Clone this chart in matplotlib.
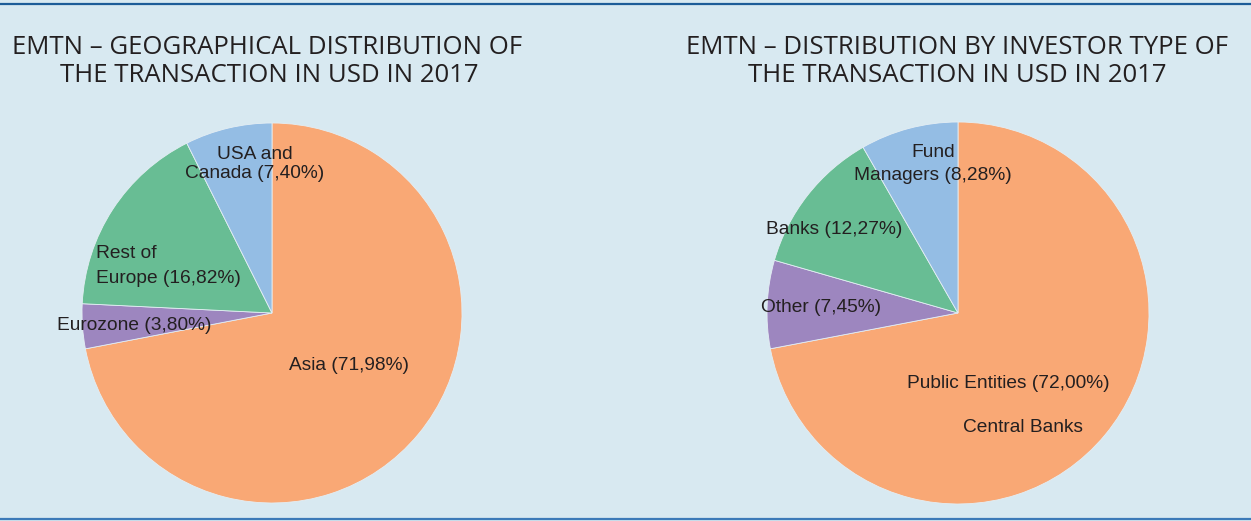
import matplotlib.pyplot as plt
from matplotlib.lines import Line2D

# left pie: geography
geo_labels = ["Asia", "Eurozone", "Rest of Europe", "USA and Canada"]
geo_values = [71.98, 3.80, 16.82, 7.40]

# right pie: investor type
inv_labels = ["Public Entities / Central Banks", "Other", "Banks", "Fund Managers"]
inv_values = [72.00, 7.45, 12.27, 8.28]

colors = ["#f9a875", "#9d86bf", "#68bd94", "#94bde4"]
BG = "#d8e9f1"
TXT = "#231f20"

W, H = 1251, 521
fig = plt.figure(figsize=(W / 100, H / 100), dpi=100, facecolor=BG)


def px(x, y):
    return x / W, 1 - y / H


def pie_axes(cx, cy, r):
    ax = fig.add_axes([(cx - r) / W, 1 - (cy + r) / H, 2 * r / W, 2 * r / H])
    ax.set_facecolor("none")
    ax.axis("off")
    return ax


ax1 = pie_axes(272, 313, 190)
ax1.pie(geo_values, colors=colors, startangle=90, counterclock=False, radius=1,
        wedgeprops=dict(edgecolor="#e4eef4", linewidth=0.6))
ax1.set_xlim(-1, 1)
ax1.set_ylim(-1, 1)

ax2 = pie_axes(958, 313, 191)
ax2.pie(inv_values, colors=colors, startangle=90, counterclock=False, radius=1,
        wedgeprops=dict(edgecolor="#e4eef4", linewidth=0.6))
ax2.set_xlim(-1, 1)
ax2.set_ylim(-1, 1)


def fmt(v):
    return "{:.2f}%".format(v).replace(".", ",")


lab = dict(fontsize=13.8, color=TXT, family="Liberation Sans", va="center")

# left labels
fig.text(*px(255, 164), "USA and\nCanada ({})".format(fmt(geo_values[3])),
         ha="center", linespacing=1.15, **lab)
fig.text(*px(96, 266), "Rest of\nEurope ({})".format(fmt(geo_values[2])),
         ha="left", linespacing=1.6, **lab)
fig.text(*px(134, 326), "Eurozone ({})".format(fmt(geo_values[1])), ha="center", **lab)
fig.text(*px(349, 365), "Asia ({})".format(fmt(geo_values[0])), ha="center", **lab)

# right labels
fig.text(*px(933, 164), "Fund\nManagers ({})".format(fmt(inv_values[3])),
         ha="center", linespacing=1.45, **lab)
fig.text(*px(834, 230), "Banks ({})".format(fmt(inv_values[2])), ha="center", **lab)
fig.text(*px(821, 307), "Other ({})".format(fmt(inv_values[1])), ha="center", **lab)
fig.text(*px(1008, 383), "Public Entities ({})".format(fmt(inv_values[0])), ha="center", **lab)
fig.text(*px(1023, 428), "Central Banks", ha="center", **lab)

# titles
tt = dict(fontsize=18.5, color=TXT, family="Open Sans", va="center", ha="center")
fig.text(*px(267, 47), "EMTN – GEOGRAPHICAL DISTRIBUTION OF", **tt)
fig.text(*px(269, 75), "THE TRANSACTION IN USD IN 2017", **tt)
fig.text(*px(957, 47), "EMTN – DISTRIBUTION BY INVESTOR TYPE OF", **tt)
fig.text(*px(957, 75), "THE TRANSACTION IN USD IN 2017", **tt)

# frame rules top and bottom
fig.add_artist(Line2D([0, 1], [1 - 3.5 / H] * 2, color="#1d5c98", lw=1.6,
                      transform=fig.transFigure))
fig.add_artist(Line2D([0, 1], [1 - 519 / H] * 2, color="#3c7ab8", lw=1.6,
                      transform=fig.transFigure))

fig.savefig("out.png", dpi=100, facecolor=BG)
